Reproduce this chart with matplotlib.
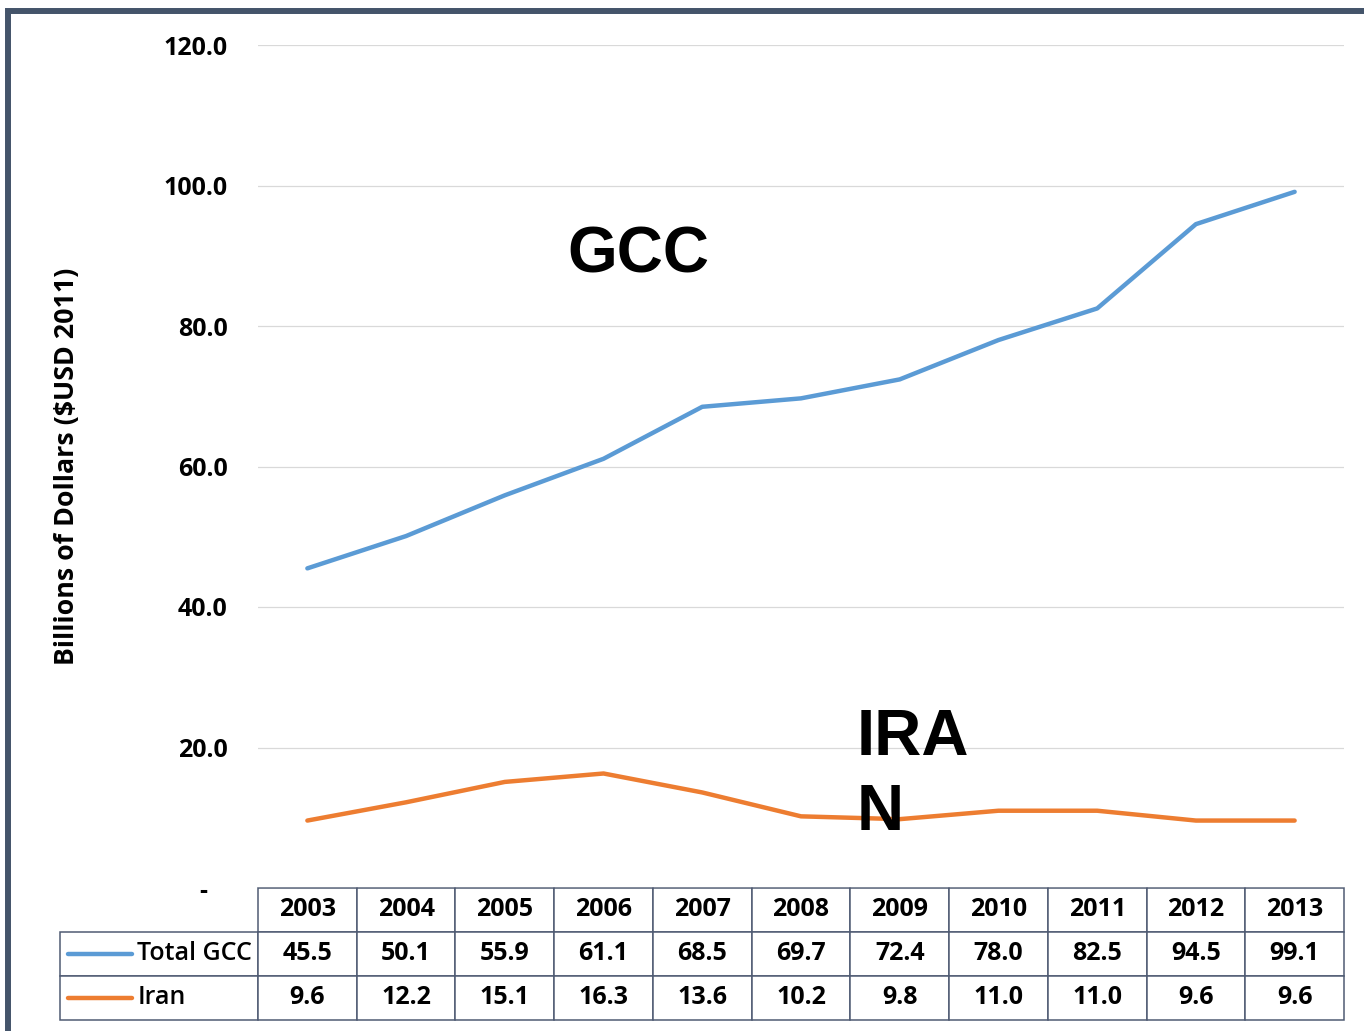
import matplotlib
matplotlib.use('Agg')
import matplotlib.pyplot as plt
from matplotlib.patches import Rectangle
from matplotlib.ticker import FuncFormatter

# Podaci
godine = ['2003', '2004', '2005', '2006', '2007', '2008', '2009', '2010', '2011', '2012', '2013']
gcc = [45.5, 50.1, 55.9, 61.1, 68.5, 69.7, 72.4, 78.0, 82.5, 94.5, 99.1]
iran = [9.6, 12.2, 15.1, 16.3, 13.6, 10.2, 9.8, 11.0, 11.0, 9.6, 9.6]
nazivi = ['Total GCC', 'Iran']
boje = ['#5b9bd5', '#ed7d31']

font = 'Open Sans'
W, H = 1364, 1031
fig = plt.figure(figsize=(W / 100, H / 100), dpi=100)
ax = fig.add_axes([258 / W, 1 - 888 / H, 1086 / W, 843 / H])

x = list(range(len(godine)))
ax.plot(x, gcc, color=boje[0], lw=3.2, solid_capstyle='round')
ax.plot(x, iran, color=boje[1], lw=3.2, solid_capstyle='round')

ax.set_xlim(-0.5, len(godine) - 0.5)
ax.set_ylim(0, 120)
ax.set_yticks(range(0, 121, 20))
ax.yaxis.set_major_formatter(FuncFormatter(lambda v, p: '-   ' if v == 0 else f'{v:.1f}'))
ax.set_xticks([])
ax.tick_params(axis='y', length=0, pad=22)
for lab in ax.get_yticklabels():
    lab.set_fontfamily(font)
    lab.set_fontweight('bold')
    lab.set_fontsize(18)
ax.grid(axis='y', color='#d9d9d9', lw=0.9)
ax.set_axisbelow(True)
for s in ax.spines.values():
    s.set_visible(False)

ax.set_ylabel('Billions of Dollars ($USD 2011)', fontfamily=font, fontweight='bold', fontsize=19.3)
ax.yaxis.set_label_coords(-0.164, 0.5)

# Natpisi
ax.text(0.35, 0.750, 'GCC', transform=ax.transAxes, fontfamily='Liberation Sans',
        fontweight='bold', fontsize=46, ha='center', va='center')
ax.text(0.551, 0.213, 'IRA\nN', transform=ax.transAxes, fontfamily='Liberation Sans',
        fontweight='bold', fontsize=47, ha='left', va='top', linespacing=1.3)

# Tablica
redovi = [[''] + godine,
          [nazivi[0]] + [f'{v:.1f}' for v in gcc],
          [nazivi[1]] + [f'{v:.1f}' for v in iran]]
x0 = (60 - 258) / 1086
tbl = ax.table(cellText=redovi, cellLoc='center',
               colWidths=[198] + [98.7] * len(godine),
               bbox=[x0, -(1020 - 888) / 843, 1 - x0, (1020 - 888) / 843])
tbl.auto_set_font_size(False)
tbl.set_fontsize(18)
for (r, c), cell in tbl.get_celld().items():
    cell.set_edgecolor('#4f5b73')
    cell.set_linewidth(1.1)
    cell.get_text().set_fontfamily(font)
    cell.get_text().set_fontweight('bold')
    if c == 0:
        cell.get_text().set_ha('left')
        cell._loc = 'left'
        cell.PAD = 0.39
        cell.get_text().set_fontweight('semibold')
    if r == 0 and c == 0:
        cell.visible_edges = ''

# Legenda u tablici
for i, boja in enumerate(boje):
    yc = 1 - (953.5 + 44 * i) / H
    fig.add_artist(plt.Line2D([68 / W, 132 / W], [yc, yc], color=boja, lw=3.2,
                              solid_capstyle='round'))

# Okvir
fig.add_artist(Rectangle((8 / W, -0.2), 2, 1.2 - 11 / H, transform=fig.transFigure,
                         fill=False, edgecolor='#44546a', lw=4.3))

fig.savefig('out.png', dpi=100)
